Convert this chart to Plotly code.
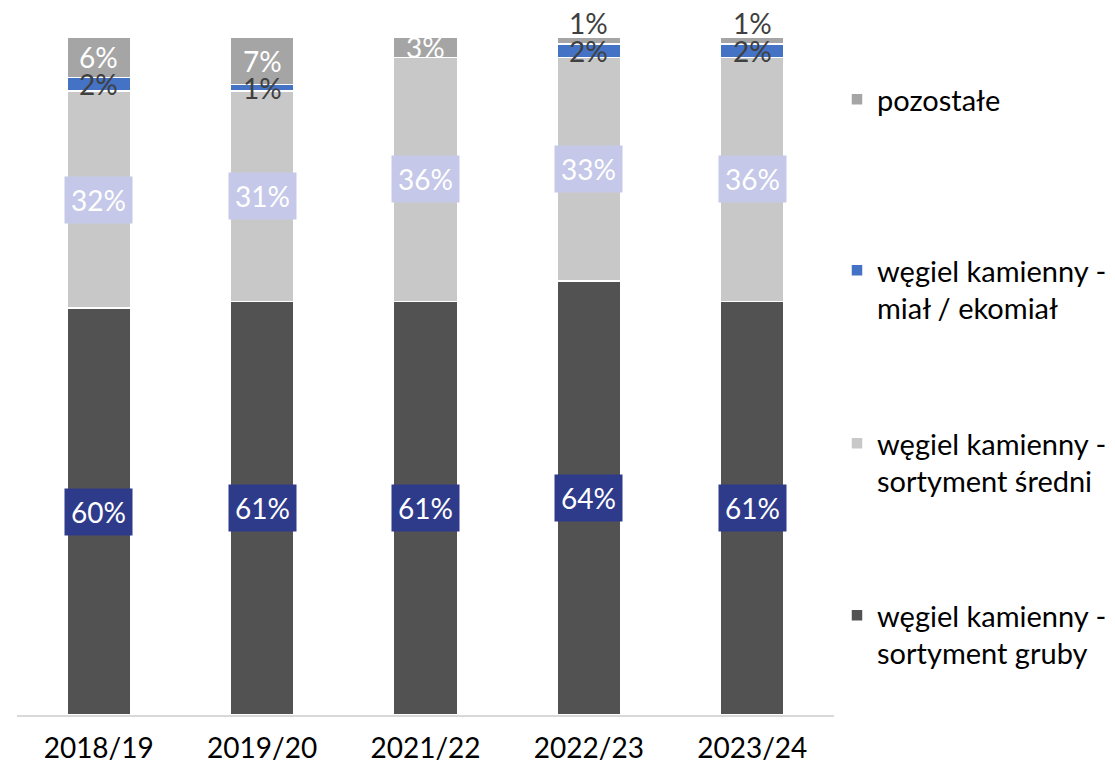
import plotly.graph_objects as go

categories = ["2018/19", "2019/20", "2021/22", "2022/23", "2023/24"]
gruby = [60, 61, 61, 64, 61]
sredni = [32, 31, 36, 33, 36]
mial = [2, 1, 0, 2, 2]
pozostale = [6, 7, 3, 1, 1]

series = [
    ("węgiel kamienny -<br>sortyment gruby", gruby, "#525252", "legend4", 590),
    ("węgiel kamienny -<br>sortyment średni", sredni, "#C8C8C8", "legend3", 418),
    ("węgiel kamienny -<br>miał / ekomiał", mial, "#4472C4", "legend2", 245),
    ("pozostałe", pozostale, "#A5A5A5", "legend", 74),
]

FONT = "Lato"
LBL = 28
fig = go.Figure()
for i, (name, vals, col, leg, ly) in enumerate(series):
    fig.add_trace(go.Bar(
        x=categories, y=vals, name=name,
        marker=dict(color=col, line=dict(color="white", width=1.5)),
        legend=leg, hoverinfo="skip",
    ))

annotations = []
base = [0] * len(categories)
for si, (name, vals, col, leg, ly) in enumerate(series):
    for ci, v in enumerate(vals):
        if v > 0:
            mid = base[ci] + v / 2
            top = base[ci] + v
            if si == 0:
                annotations.append(dict(x=categories[ci], y=mid, text=f"{v}%", showarrow=False,
                                        font=dict(family=FONT, size=LBL, color="white"),
                                        bgcolor="#2E3B8B", borderpad=6))
            elif si == 1:
                annotations.append(dict(x=categories[ci], y=mid, text=f"{v}%", showarrow=False,
                                        font=dict(family=FONT, size=LBL, color="white"),
                                        bgcolor="#C5C8E8", borderpad=6))
            elif si == 2:
                annotations.append(dict(x=categories[ci], y=mid, text=f"{v}%", showarrow=False,
                                        font=dict(family=FONT, size=LBL, color="#404040")))
            else:
                if v >= 3:
                    annotations.append(dict(x=categories[ci], y=mid, text=f"{v}%", showarrow=False,
                                            font=dict(family=FONT, size=LBL, color="white")))
                else:
                    annotations.append(dict(x=categories[ci], y=top, text=f"{v}%", showarrow=False,
                                            yanchor="bottom", yshift=-5,
                                            font=dict(family=FONT, size=LBL, color="#404040")))
        base[ci] += v

legend_common = dict(
    xref="container", yref="container", xanchor="left", yanchor="top",
    valign="top", font=dict(family=FONT, size=29, color="#000000"),
    itemwidth=30, bgcolor="rgba(0,0,0,0)",
)
legends = {}
for name, vals, col, leg, ly in series:
    legends[leg] = dict(legend_common, x=837 / 1115, y=1 - ly / 772)

fig.update_layout(
    barmode="stack",
    bargap=0.61,
    width=1115, height=772,
    margin=dict(l=17, r=281, t=37, b=57, autoexpand=False),
    plot_bgcolor="white", paper_bgcolor="white",
    font=dict(family=FONT, color="#000000"),
    annotations=annotations,
    showlegend=True,
    xaxis=dict(showline=True, linecolor="#D9D9D9", linewidth=1.5, ticks="",
               tickfont=dict(family=FONT, size=28, color="#000000"),
               ticklabelstandoff=8, showgrid=False),
    yaxis=dict(range=[0, 100], visible=False, showgrid=False),
    **legends,
)

fig.write_html("out.html", config={"displayModeBar": False},
               post_script="document.body.style.margin='0';")
